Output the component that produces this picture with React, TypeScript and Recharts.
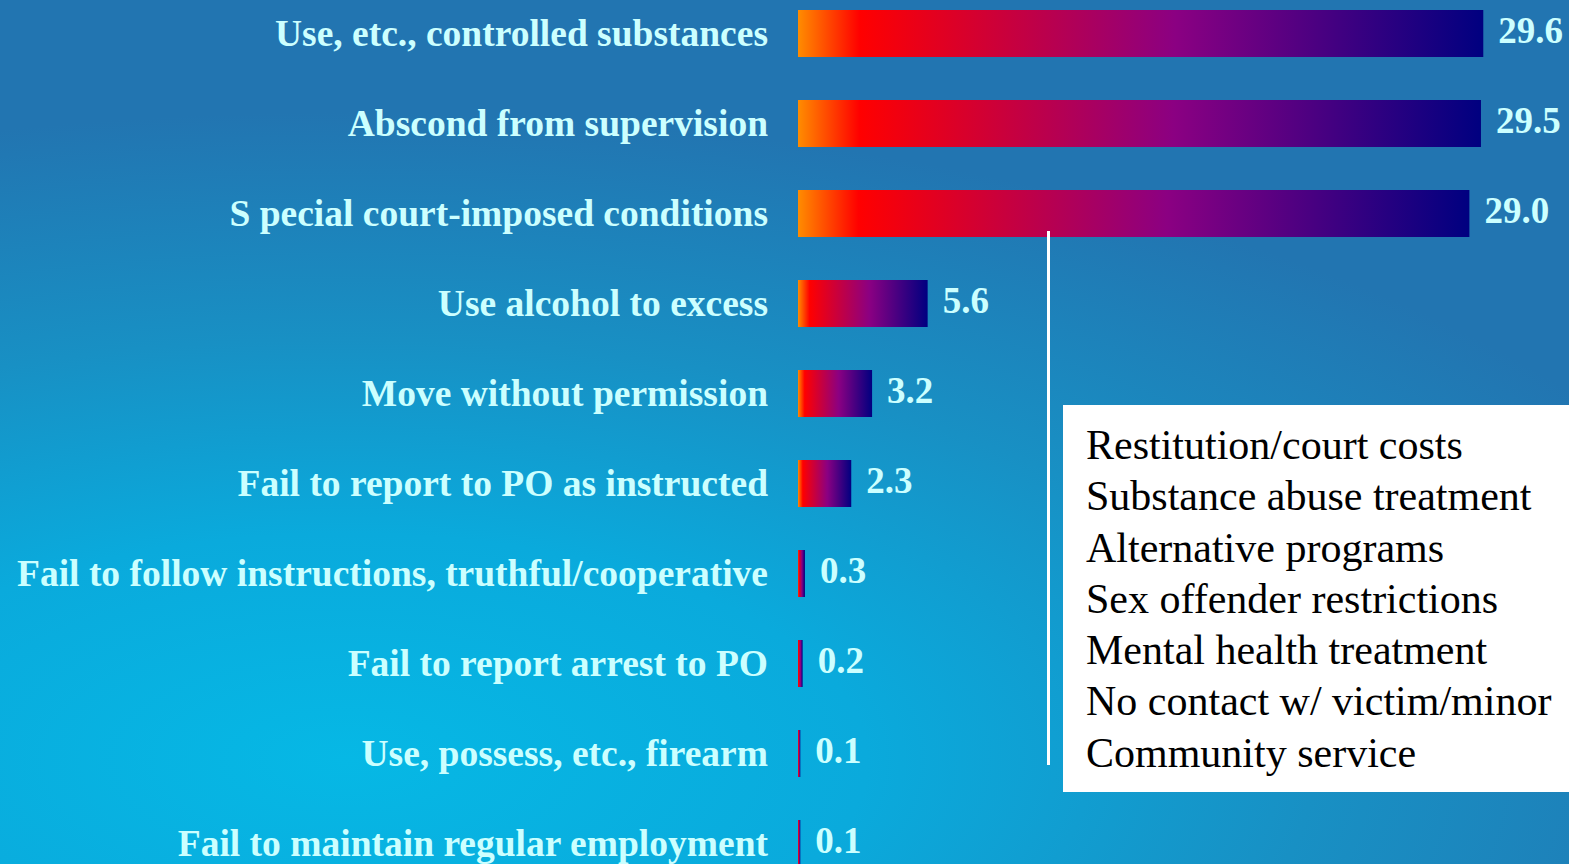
import React from "react";
import { BarChart, Bar, XAxis, YAxis, LabelList } from "recharts";

// violation categories, top to bottom
const categories = [
  "Use, etc., controlled substances",
  "Abscond from supervision",
  "S pecial court-imposed conditions",
  "Use alcohol to excess",
  "Move without permission",
  "Fail to report to PO as instructed",
  "Fail to follow instructions, truthful/cooperative",
  "Fail to report arrest to PO",
  "Use, possess, etc., firearm",
  "Fail to maintain regular employment",
];

// percent of violations
const percents = [29.6, 29.5, 29.0, 5.6, 3.2, 2.3, 0.3, 0.2, 0.1, 0.1];

// special conditions listed in the callout box
const specialConditions = [
  "Restitution/court costs",
  "Substance abuse treatment",
  "Alternative programs",
  "Sex offender restrictions",
  "Mental health treatment",
  "No contact w/ victim/minor",
  "Community service",
];

const data = categories.map((name, i) => ({ name, value: percents[i] }));

const LABEL_COLOR = "#ccffff";
const SERIF = "'Liberation Serif', 'Times New Roman', serif";

const CategoryTick = ({ x, y, payload }: any) => (
  <text
    x={x}
    y={y}
    dy="0.34em"
    textAnchor="end"
    fill={LABEL_COLOR}
    fontFamily={SERIF}
    fontWeight="bold"
    fontSize={37.5}
  >
    {payload.value}
  </text>
);

const ValueLabel = (props: any) => {
  const { x, y, width, height, value } = props;
  return (
    <text
      x={x + width + 15}
      y={y + height / 2}
      dy="0.26em"
      textAnchor="start"
      fill={LABEL_COLOR}
      fontFamily={SERIF}
      fontWeight="bold"
      fontSize={37}
    >
      {Number(value).toFixed(1)}
    </text>
  );
};

export default function App() {
  return (
    <div
      style={{
        position: "absolute",
        left: 0,
        top: 0,
        width: 1569,
        height: 864,
        overflow: "hidden",
        background:
          "radial-gradient(ellipse 95% 75% at 22% 88%, #06b8e5 0%, #0aaadc 35%, #1890c4 65%, #2275b1 100%)",
      }}
    >
      <BarChart
        width={1569}
        height={900}
        data={data}
        layout="vertical"
        margin={{ top: 0, right: 7, bottom: 0, left: 0 }}
        style={{ position: "absolute", left: 0, top: -12 }}
      >
        <defs>
          <linearGradient id="barGrad" x1="0" y1="0" x2="1" y2="0">
            <stop offset="0%" stopColor="#ff8c00" />
            <stop offset="9%" stopColor="#ff0000" />
            <stop offset="55%" stopColor="#8b0082" />
            <stop offset="100%" stopColor="#000080" />
          </linearGradient>
        </defs>
        <XAxis type="number" domain={[0, 33]} hide />
        <YAxis
          type="category"
          dataKey="name"
          width={798}
          axisLine={false}
          tickLine={false}
          tickMargin={24}
          interval={0}
          tick={<CategoryTick />}
        />
        <Bar dataKey="value" fill="url(#barGrad)" barSize={47} isAnimationActive={false}>
          <LabelList dataKey="value" content={<ValueLabel />} />
        </Bar>
      </BarChart>

      {/* connector from the special-conditions bar to the callout */}
      <div
        style={{
          position: "absolute",
          left: 1047,
          top: 231,
          width: 3,
          height: 534,
          background: "#ffffff",
        }}
      />
      <div
        style={{
          position: "absolute",
          left: 1063,
          top: 405,
          width: 506,
          height: 387,
          background: "#ffffff",
          boxSizing: "border-box",
          padding: "15px 0 0 23px",
          fontFamily: SERIF,
          fontSize: 42,
          lineHeight: "51.3px",
          color: "#000000",
          whiteSpace: "nowrap",
        }}
      >
        {specialConditions.map((c) => (
          <div key={c}>{c}</div>
        ))}
      </div>
    </div>
  );
}
